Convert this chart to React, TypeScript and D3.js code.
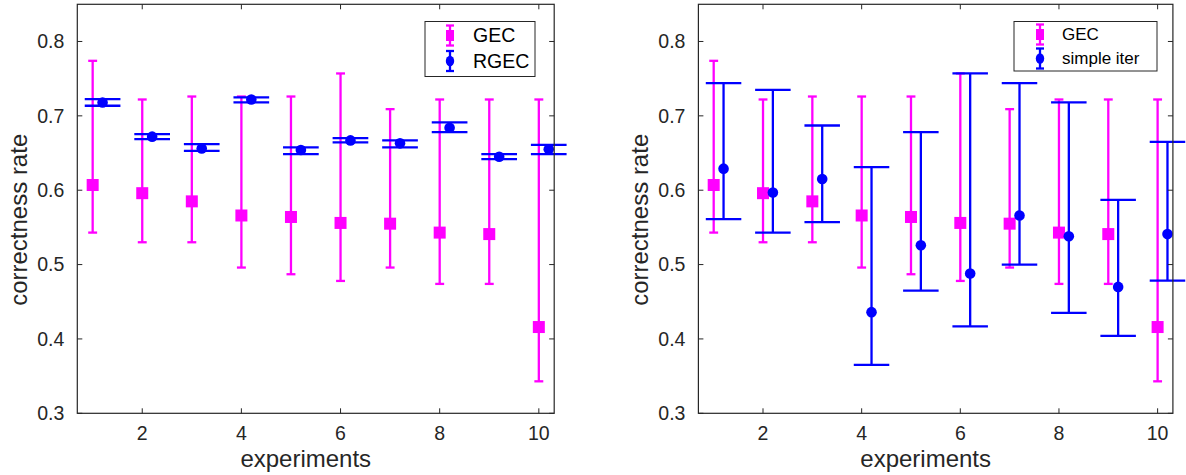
import React from "react";
import * as d3 from "d3";

const experiments = [1, 2, 3, 4, 5, 6, 7, 8, 9, 10];

const gecMean = [0.607, 0.596, 0.585, 0.566, 0.564, 0.556, 0.555, 0.543, 0.541, 0.416];
const gecUpper = [0.774, 0.722, 0.726, 0.726, 0.726, 0.757, 0.709, 0.722, 0.722, 0.722];
const gecLower = [0.543, 0.530, 0.530, 0.496, 0.487, 0.478, 0.496, 0.474, 0.474, 0.343];

const rgecMean = [0.718, 0.672, 0.656, 0.722, 0.654, 0.667, 0.663, 0.684, 0.645, 0.655];
const rgecUpper = [0.7226, 0.6755, 0.662, 0.7248, 0.6575, 0.670, 0.667, 0.6912, 0.6486, 0.661];
const rgecLower = [0.7136, 0.6688, 0.653, 0.718, 0.6486, 0.6642, 0.6575, 0.6782, 0.6419, 0.6486];

const iterMean = [0.629, 0.597, 0.615, 0.436, 0.526, 0.488, 0.566, 0.538, 0.470, 0.541];
const iterUpper = [0.744, 0.735, 0.687, 0.631, 0.678, 0.757, 0.744, 0.718, 0.587, 0.665];
const iterLower = [0.561, 0.543, 0.557, 0.365, 0.465, 0.417, 0.500, 0.435, 0.404, 0.4785];

const xTicks = [2, 4, 6, 8, 10];
const yTicks = [0.3, 0.4, 0.5, 0.6, 0.7, 0.8];
const xLabel = "experiments";
const yLabel = "correctness rate";

const MAGENTA = "#ff00ff";
const BLUE = "#0000ff";
const AXIS = "#262626";
const FONT = "'Liberation Sans', Arial, Helvetica, sans-serif";

type Series = {
  name: string;
  color: string;
  marker: "square" | "circle";
  offset: number;
  capHalf: number;
  mean: number[];
  upper: number[];
  lower: number[];
};

const gecSeries: Series = {
  name: "GEC", color: MAGENTA, marker: "square", offset: 0, capHalf: 0.09,
  mean: gecMean, upper: gecUpper, lower: gecLower,
};
const rgecSeries: Series = {
  name: "RGEC", color: BLUE, marker: "circle", offset: 0.2, capHalf: 0.36,
  mean: rgecMean, upper: rgecUpper, lower: rgecLower,
};
const iterSeries: Series = {
  name: "simple iter", color: BLUE, marker: "circle", offset: 0.2, capHalf: 0.36,
  mean: iterMean, upper: iterUpper, lower: iterLower,
};

type PanelProps = {
  left: number;
  right: number;
  series: Series[];
  legend: { x0: number; x1: number; y0: number; y1: number; rows: number[]; markerX: number; textX: number; fontSize: number };
};

const TOP = 4.3;
const BOTTOM = 413.3;

function Panel({ left, right, series, legend }: PanelProps) {
  const x = d3.scaleLinear().domain([0.69, 10.31]).range([left, right]);
  const y = d3.scaleLinear().domain([0.3, 0.85]).range([BOTTOM, TOP]);
  const tickLen = 5;
  const cx = (left + right) / 2 - 10;
  const cy = (TOP + BOTTOM) / 2 + 11;
  return (
    <g>
      {series.map((s) => (
        <g key={s.name}>
          {experiments.map((e, i) => {
            const px = x(e + s.offset);
            const capL = x(e + s.offset - s.capHalf);
            const capR = x(e + s.offset + s.capHalf);
            const yu = y(s.upper[i]);
            const yl = y(s.lower[i]);
            const ym = y(s.mean[i]);
            return (
              <g key={i} stroke={s.color} strokeWidth={2.3} fill={s.color}>
                <line x1={px} x2={px} y1={yu} y2={yl} />
                <line x1={capL} x2={capR} y1={yu} y2={yu} />
                <line x1={capL} x2={capR} y1={yl} y2={yl} />
                {s.marker === "square" ? (
                  <rect x={px - 6} y={ym - 6} width={12} height={12} stroke="none" />
                ) : (
                  <circle cx={px} cy={ym} r={5.3} stroke="none" />
                )}
              </g>
            );
          })}
        </g>
      ))}
      <rect x={left} y={TOP} width={right - left} height={BOTTOM - TOP} fill="none" stroke={AXIS} strokeWidth={1.2} />
      {yTicks.map((t) => (
        <g key={"y" + t}>
          <line x1={left} x2={left + tickLen} y1={y(t)} y2={y(t)} stroke={AXIS} strokeWidth={1} />
          <line x1={right} x2={right - tickLen} y1={y(t)} y2={y(t)} stroke={AXIS} strokeWidth={1} />
          <text x={left - 13} y={y(t)} dy="0.35em" textAnchor="end" fontSize={19.5} fill={AXIS} fontFamily={FONT}>
            {t.toFixed(1)}
          </text>
        </g>
      ))}
      {xTicks.map((t) => (
        <g key={"x" + t}>
          <line x1={x(t)} x2={x(t)} y1={BOTTOM} y2={BOTTOM - tickLen} stroke={AXIS} strokeWidth={1} />
          <line x1={x(t)} x2={x(t)} y1={TOP} y2={TOP + tickLen} stroke={AXIS} strokeWidth={1} />
          <text x={x(t)} y={440} textAnchor="middle" fontSize={19.5} fill={AXIS} fontFamily={FONT}>
            {t}
          </text>
        </g>
      ))}
      <text x={cx} y={467} textAnchor="middle" fontSize={24} fill={AXIS} fontFamily={FONT}>
        {xLabel}
      </text>
      <text
        transform={`translate(${left - 50},${cy}) rotate(-90)`}
        textAnchor="middle"
        fontSize={24}
        fill={AXIS}
        fontFamily={FONT}
      >
        {yLabel}
      </text>
      <rect
        x={legend.x0}
        y={legend.y0}
        width={legend.x1 - legend.x0}
        height={legend.y1 - legend.y0}
        fill="#ffffff"
        stroke={AXIS}
        strokeWidth={1}
      />
      {series.map((s, i) => {
        const ry = legend.rows[i];
        const mx = legend.markerX;
        const h = 10;
        return (
          <g key={"lg" + s.name}>
            <g stroke={s.color} strokeWidth={2.3} fill={s.color}>
              <line x1={mx} x2={mx} y1={ry - h} y2={ry + h} />
              <line x1={mx - 4} x2={mx + 4} y1={ry - h} y2={ry - h} />
              <line x1={mx - 4} x2={mx + 4} y1={ry + h} y2={ry + h} />
              {s.marker === "square" ? (
                <rect x={mx - 4} y={ry - 5.5} width={8} height={11} stroke="none" />
              ) : (
                <ellipse cx={mx} cy={ry} rx={4.2} ry={5.3} stroke="none" />
              )}
            </g>
            <text x={legend.textX} y={ry} dy="0.35em" fontSize={legend.fontSize} fill="#000" fontFamily={FONT}>
              {s.name}
            </text>
          </g>
        );
      })}
    </g>
  );
}

export default function App() {
  return (
    <svg
      width={1186}
      height={475}
      style={{ position: "absolute", left: 0, top: 0, background: "#fff" }}
    >
      <rect x={0} y={0} width={1186} height={475} fill="#fff" />
      <Panel
        left={77.3}
        right={554.2}
        series={[gecSeries, rgecSeries]}
        legend={{ x0: 425, x1: 535, y0: 21.5, y1: 76.5, rows: [35.5, 61], markerX: 450, textX: 473, fontSize: 19.5 }}
      />
      <Panel
        left={698.4}
        right={1172.9}
        series={[gecSeries, iterSeries]}
        legend={{ x0: 1014, x1: 1157, y0: 21.5, y1: 71, rows: [34.5, 58.5], markerX: 1040, textX: 1062, fontSize: 17 }}
      />
    </svg>
  );
}
